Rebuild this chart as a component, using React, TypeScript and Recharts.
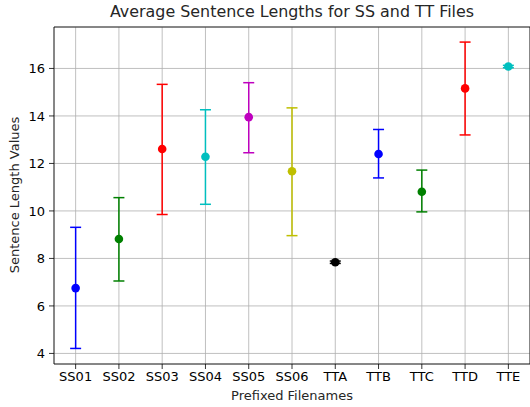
import { CartesianGrid, ComposedChart, ErrorBar, ReferenceArea, Scatter, XAxis, YAxis } from 'recharts';

const names = ['SS01', 'SS02', 'SS03', 'SS04', 'SS05', 'SS06', 'TTA', 'TTB', 'TTC', 'TTD', 'TTE'];
const means = [6.75, 8.82, 12.61, 12.28, 13.95, 11.67, 7.84, 12.4, 10.81, 15.16, 16.08];
const lows = [4.21, 7.05, 9.85, 10.28, 12.45, 8.96, 7.79, 11.39, 9.96, 13.2, 16.03];
const highs = [9.31, 10.56, 15.33, 14.26, 15.4, 14.34, 7.89, 13.43, 11.72, 17.11, 16.13];
const colors = ['#0000ff', '#008000', '#ff0000', '#00bfbf', '#bf00bf', '#bfbf00', '#000000', '#0000ff', '#008000', '#ff0000', '#00bfbf'];
const yTicks = [4, 6, 8, 10, 12, 14, 16];

const font = 'DejaVu Sans, sans-serif';

export default function App() {
  const points = names.map((name, i) => ({
    name,
    x: i,
    y: means[i],
    err: [means[i] - lows[i], highs[i] - means[i]],
  }));

  return (
    <div style={{ position: 'absolute', left: 0, top: 0, width: 530, height: 407, fontFamily: font, background: '#fff' }}>
      <div style={{ position: 'absolute', left: 54, width: 476, top: 2, textAlign: 'center', fontSize: 15.9, color: '#262626' }}>
        Average Sentence Lengths for SS and TT Files
      </div>
      <div
        style={{
          position: 'absolute', left: 14, top: 195, fontSize: 13, whiteSpace: 'nowrap', color: '#262626',
          transform: 'translate(-50%, -50%) rotate(-90deg)',
        }}
      >
        Sentence Length Values
      </div>
      <div style={{ position: 'absolute', left: 54, width: 476, top: 388, textAlign: 'center', fontSize: 13, color: '#262626' }}>
        Prefixed Filenames
      </div>
      <ComposedChart width={530} height={407} margin={{ top: 27, right: 0, bottom: 0, left: 0 }}>
        <CartesianGrid stroke="#b0b0b0" strokeWidth={0.8} />
        <XAxis
          type="number"
          dataKey="x"
          domain={[-0.5, 10.5]}
          ticks={names.map((_, i) => i)}
          interval={0}
          tickFormatter={(v: number) => names[v]}
          height={43}
          tickSize={5}
          tickMargin={3}
          axisLine={false}
          tickLine={{ stroke: '#000', strokeWidth: 0.8 }}
          tick={{ fontSize: 13, fill: '#000', fontFamily: font }}
        />
        <YAxis
          type="number"
          domain={[3.555, 17.745]}
          ticks={yTicks}
          width={54}
          tickSize={5}
          tickMargin={4}
          axisLine={false}
          tickLine={{ stroke: '#000', strokeWidth: 0.8 }}
          tick={{ fontSize: 13, fill: '#000', fontFamily: font }}
        />
        <ReferenceArea x1={-0.5} x2={10.5} y1={3.555} y2={17.745} fill="none" stroke="#000" strokeWidth={0.8} />
        {points.map((p, i) => (
          <Scatter
            key={p.name}
            data={[p]}
            dataKey="y"
            fill={colors[i]}
            isAnimationActive={false}
            shape={(props: any) => <circle cx={props.cx} cy={props.cy} r={4.3} fill={colors[i]} />}
          >
            <ErrorBar dataKey="err" direction="y" width={5.5} stroke={colors[i]} strokeWidth={1.5} isAnimationActive={false} />
          </Scatter>
        ))}
      </ComposedChart>
    </div>
  );
}
